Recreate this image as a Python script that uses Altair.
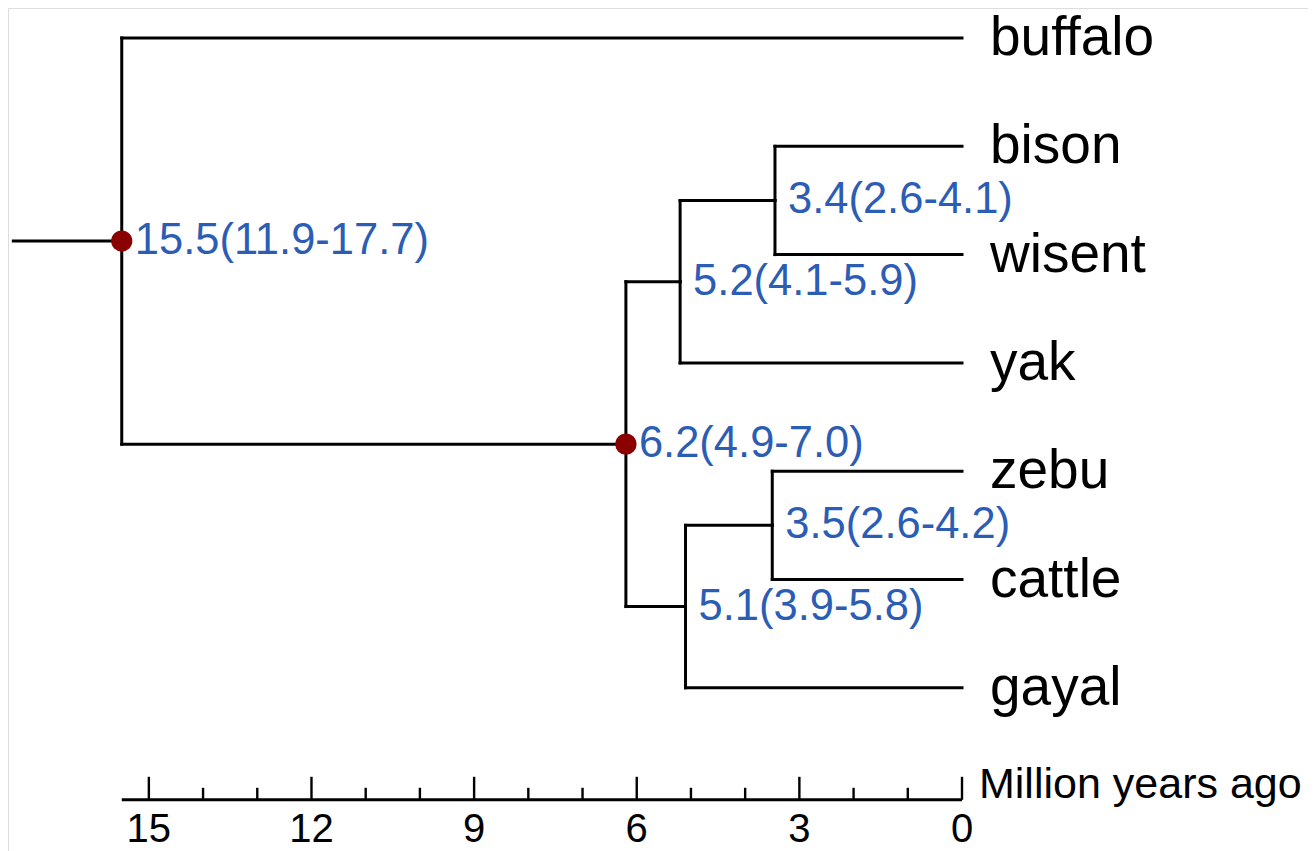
import altair as alt
import pandas as pd

# ---- data ----
leaves = ["buffalo", "bison", "wisent", "yak", "zebu", "cattle", "gayal"]
node_ids = ["root", "n62", "n52", "n34", "n35", "n51"]
node_times = [15.5, 6.2, 5.2, 3.45, 3.5, 5.1]
node_labels = ["15.5(11.9-17.7)", "6.2(4.9-7.0)", "5.2(4.1-5.9)",
               "3.4(2.6-4.1)", "3.5(2.6-4.2)", "5.1(3.9-5.8)"]
node_children = [["buffalo", "n62"], ["n52", "n51"], ["n34", "yak"],
                 ["bison", "wisent"], ["zebu", "cattle"], ["n35", "gayal"]]
dated_nodes = ["root", "n62"]
stem_start = 17.5
tick_values = list(range(0, 16))
major_ticks = [0, 3, 6, 9, 12, 15]
axis_start = 15.5
axis_title = "Million years ago"

# ---- layout constants ----
W, H = 1300, 843
PX_ROW = 108.3
FONT = "Liberation Sans, Arial, Helvetica, sans-serif"
BLUE = "#2c5db5"
RED = "#8b0000"

# ---- tree geometry from the topology ----
ypos = {name: float(i) for i, name in enumerate(leaves)}
tpos = {name: 0.0 for name in leaves}
for nid, t in zip(node_ids, node_times):
    tpos[nid] = t
children = dict(zip(node_ids, node_children))


def gety(n):
    if n in ypos:
        return ypos[n]
    ypos[n] = sum(gety(c) for c in children[n]) / len(children[n])
    return ypos[n]


for n in node_ids:
    gety(n)

segs = []
for p in node_ids:
    for c in children[p]:
        segs.append(dict(x=tpos[p], x2=tpos[c], y=ypos[c], y2=ypos[c]))
        segs.append(dict(x=tpos[p], x2=tpos[p], y=ypos[c], y2=ypos[p]))
segs.append(dict(x=stem_start, x2=tpos["root"], y=ypos["root"], y2=ypos["root"]))
seg_df = pd.DataFrame(segs)

leaf_df = pd.DataFrame({"name": leaves, "t": [0.0] * len(leaves),
                        "y": [ypos[n] for n in leaves]})
node_df = pd.DataFrame({"id": node_ids, "t": node_times, "label": node_labels,
                        "y": [ypos[n] for n in node_ids]})
dot_df = node_df[node_df["id"].isin(dated_nodes)]

axis_y = len(leaves) - 1 + 112 / PX_ROW
tick_df = pd.DataFrame({
    "t": tick_values,
    "y": [axis_y] * len(tick_values),
    "y2": [axis_y - (23 if v in major_ticks else 12) / PX_ROW for v in tick_values],
})
major_df = pd.DataFrame({"t": major_ticks, "y": [axis_y] * len(major_ticks),
                         "lab": [str(v) for v in major_ticks]})
axis_df = pd.DataFrame({"x": [axis_start], "x2": [0.0], "y": [axis_y]})
title_df = pd.DataFrame({"t": [0.0], "y": [axis_y], "lab": [axis_title]})

# ---- scales ----
px_per_my = 54.21
x_left = (962 - 8) / px_per_my
x_right = x_left - W / px_per_my
xs = alt.Scale(domain=[x_left, x_right], nice=False, zero=False)
y_top = -30 / PX_ROW
y_bot = y_top + H / PX_ROW
ys = alt.Scale(domain=[y_bot, y_top], nice=False, zero=False)

X = lambda f: alt.X(f, type="quantitative", scale=xs, axis=None)
Y = lambda f: alt.Y(f, type="quantitative", scale=ys, axis=None)

tree = alt.Chart(seg_df).mark_rule(color="black", strokeWidth=3, strokeCap="square").encode(
    x=X("x"), x2="x2", y=Y("y"), y2="y2")

dots = alt.Chart(dot_df).mark_point(filled=True, shape="circle", size=450,
                                    color=RED, opacity=1).encode(x=X("t"), y=Y("y"))

node_text = alt.Chart(node_df).mark_text(align="left", baseline="middle", dx=13,
                                         font=FONT, fontSize=43.5, color=BLUE).encode(
    x=X("t"), y=Y("y"), text="label")

leaf_text = alt.Chart(leaf_df).mark_text(align="left", baseline="middle", dx=28,
                                         font=FONT, fontSize=55, color="black").encode(
    x=X("t"), y=Y("y"), text="name")

axis_line = alt.Chart(axis_df).mark_rule(color="black", strokeWidth=3).encode(
    x=X("x"), x2="x2", y=Y("y"))

ticks = alt.Chart(tick_df).mark_rule(color="black", strokeWidth=2.4).encode(
    x=X("t"), y=Y("y"), y2="y2")

tick_labels = alt.Chart(major_df).mark_text(align="center", baseline="alphabetic", dy=42,
                                            font=FONT, fontSize=40, color="black").encode(
    x=X("t"), y=Y("y"), text="lab")

axis_title_text = alt.Chart(title_df).mark_text(align="left", baseline="alphabetic", dx=17, dy=-2,
                                                font=FONT, fontSize=43, color="black").encode(
    x=X("t"), y=Y("y"), text="lab")

chart = alt.layer(tree, dots, node_text, leaf_text, axis_line, ticks, tick_labels,
                  axis_title_text).properties(
    width=W, height=H,
    autosize=alt.AutoSizeParams(type="none"),
    padding={"left": 0, "top": 0, "right": 0, "bottom": 0},
).configure_view(stroke=None).configure(background="white")

chart.save("out.html", embed_options={"renderer": "svg", "actions": False})
